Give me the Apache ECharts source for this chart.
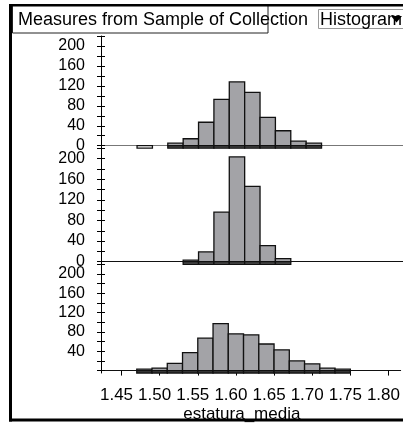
<!DOCTYPE html>
<html><head><meta charset="utf-8">
<script src="https://cdn.jsdelivr.net/npm/echarts@6/dist/echarts.min.js"></script>
<style>html,body{margin:0;padding:0;background:#fff}#c{width:403px;height:424px}</style>
</head><body><div id="c"></div>
<script>
// ---- data ----
const binStarts = [1.47, 1.49, 1.51, 1.53, 1.55, 1.57, 1.59, 1.61, 1.63, 1.65, 1.67, 1.69, 1.71, 1.73];
const binWidth = 0.02;
const topCounts    = [0, 0, 5, 14, 47, 93, 128, 107, 57, 30, 9, 5, 0, 0];
const middleCounts = [0, 0, 0, 3, 19, 96, 203, 146, 31, 6, 0, 0, 0, 0];
const bottomCounts = [3, 5, 15, 37, 67, 97, 76, 74, 55, 43, 20, 14, 5, 3];
const topEmptyBins = [1.47];
const xTicks = [1.45, 1.50, 1.55, 1.60, 1.65, 1.70, 1.75, 1.80];
const yTicks = [0, 20, 40, 60, 80, 100, 120, 140, 160, 180, 200, 220];
const yLabels = [0, 40, 80, 120, 160, 200];
const bottomYLabels = [40, 80, 120, 160, 200];
const titleText = 'Measures from Sample of Collection';
const plotTypeText = 'Histogram';
const xAxisName = 'estatura_media';

// ---- layout ----
const FONT = "'Liberation Sans', Arial, Helvetica, sans-serif";
const xMin = 1.4231, xMax = 1.816;
const yMin = -5, yMax = 220;
const STRIP = -5;
const grids = [
  {left: 101, right: 0, top: 36, height: 112.2},
  {left: 101, right: 0, top: 148.2, height: 116.1},
  {left: 101, right: 0, top: 264.3, height: 114.95}
];
const panels = [topCounts, middleCounts, bottomCounts];

function renderBins(params, api) {
  const lo = api.value(0), hi = api.value(1), cnt = api.value(2), empty = api.value(3);
  const p0 = api.coord([lo, 0]), p1 = api.coord([hi, 0]);
  const pd = api.coord([lo, STRIP]);
  const w = p1[0] - p0[0];
  const children = [];
  if (cnt > 0 || empty) {
    children.push({type: 'rect', shape: {x: p0[0], y: p0[1], width: w, height: pd[1] - p0[1]},
      style: {fill: empty ? '#ffffff' : '#505050', stroke: '#111', lineWidth: 1.3}});
  }
  if (cnt > 0) {
    const pt = api.coord([lo, cnt]);
    children.push({type: 'rect', shape: {x: pt[0], y: pt[1], width: w, height: p0[1] - pt[1]},
      style: {fill: '#a3a3a7', stroke: '#111', lineWidth: 1.3}});
  }
  return {type: 'group', children};
}

const xAxes = [], yAxes = [], series = [];
panels.forEach((counts, i) => {
  const isBottom = i === 2;
  xAxes.push({
    gridIndex: i, type: 'value', min: xMin, max: xMax,
    axisLine: {show: true, onZero: true, lineStyle: {color: i === 0 ? '#777' : '#111', width: 1}},
    axisTick: isBottom ? {show: true, length: 5, customValues: xTicks, lineStyle: {color: '#000'}} : {show: false},
    axisLabel: isBottom ? {show: true, customValues: xTicks, formatter: v => v.toFixed(2), fontSize: 17,
      fontFamily: FONT, color: '#000', margin: 14, padding: [0, 10, 0, 0]} : {show: false},
    splitLine: {show: false},
    name: isBottom ? xAxisName : '', nameLocation: 'middle', nameGap: 33,
    nameTextStyle: {fontSize: 17, fontFamily: FONT, color: '#000', padding: [0, 18, 0, 0]}
  });
  yAxes.push({
    gridIndex: i, type: 'value', min: yMin, max: yMax, position: 'left',
    axisLine: {show: true, onZero: false, lineStyle: {color: '#000', width: 1}},
    axisTick: {show: true, inside: false, length: 4, customValues: yTicks, lineStyle: {color: '#000'}},
    axisLabel: {show: true, customValues: isBottom ? bottomYLabels : yLabels, margin: 16, fontSize: 16,
      fontFamily: FONT, color: '#000'},
    splitLine: {show: false}
  });
  yAxes.push({
    gridIndex: i, type: 'value', min: yMin, max: yMax, position: 'left', offset: 0,
    axisLine: {show: false, onZero: false},
    axisTick: {show: true, inside: true, length: 4, customValues: yTicks, lineStyle: {color: '#000'}},
    axisLabel: {show: false},
    splitLine: {show: false}
  });
  series.push({
    type: 'custom', xAxisIndex: i, yAxisIndex: i * 2,
    renderItem: renderBins,
    encode: {x: [0, 1], y: 2},
    data: binStarts.map((s, k) => [s, +(s + binWidth).toFixed(2), counts[k],
      (i === 0 && topEmptyBins.includes(s)) ? 1 : 0]),
    z: 3, animation: false
  });
});

const graphic = [
  // frame
  {type: 'rect', shape: {x: 9, y: 4, width: 3, height: 417.5}, style: {fill: '#000'}, z: 100},
  {type: 'rect', shape: {x: 9, y: 4, width: 394, height: 2.5}, style: {fill: '#000'}, z: 100},
  {type: 'rect', shape: {x: 9, y: 418.5, width: 394, height: 3}, style: {fill: '#000'}, z: 100},
  // title box
  {type: 'rect', shape: {x: 12.5, y: 5.5, width: 255.5, height: 27.5}, style: {fill: '#fff'}, z: 90},
  {type: 'text', x: 18, y: 20, style: {text: titleText, font: '18px ' + FONT, fill: '#000',
    textVerticalAlign: 'middle'}, z: 95},
  {type: 'rect', shape: {x: 12.5, y: 5.5, width: 255.5, height: 27.5}, style: {fill: 'none', stroke: '#222', lineWidth: 1}, z: 99},
  // histogram dropdown
  {type: 'rect', shape: {x: 318.5, y: 9.5, width: 90, height: 19}, style: {fill: '#fff', stroke: '#999', lineWidth: 1}, z: 90},
  {type: 'text', x: 320, y: 20, style: {text: plotTypeText, font: '18px ' + FONT, fill: '#000',
    textVerticalAlign: 'middle'}, z: 95},
  {type: 'polygon', shape: {points: [[391, 16], [402, 16], [396.5, 22.5]]}, style: {fill: '#000'}, z: 96}
];

const chart = echarts.init(document.getElementById('c'), null, {renderer: 'canvas'});
chart.setOption({
  animation: false,
  backgroundColor: '#fff',
  grid: grids,
  xAxis: xAxes,
  yAxis: yAxes,
  series: series,
  graphic: graphic
});
</script>
</body></html>
